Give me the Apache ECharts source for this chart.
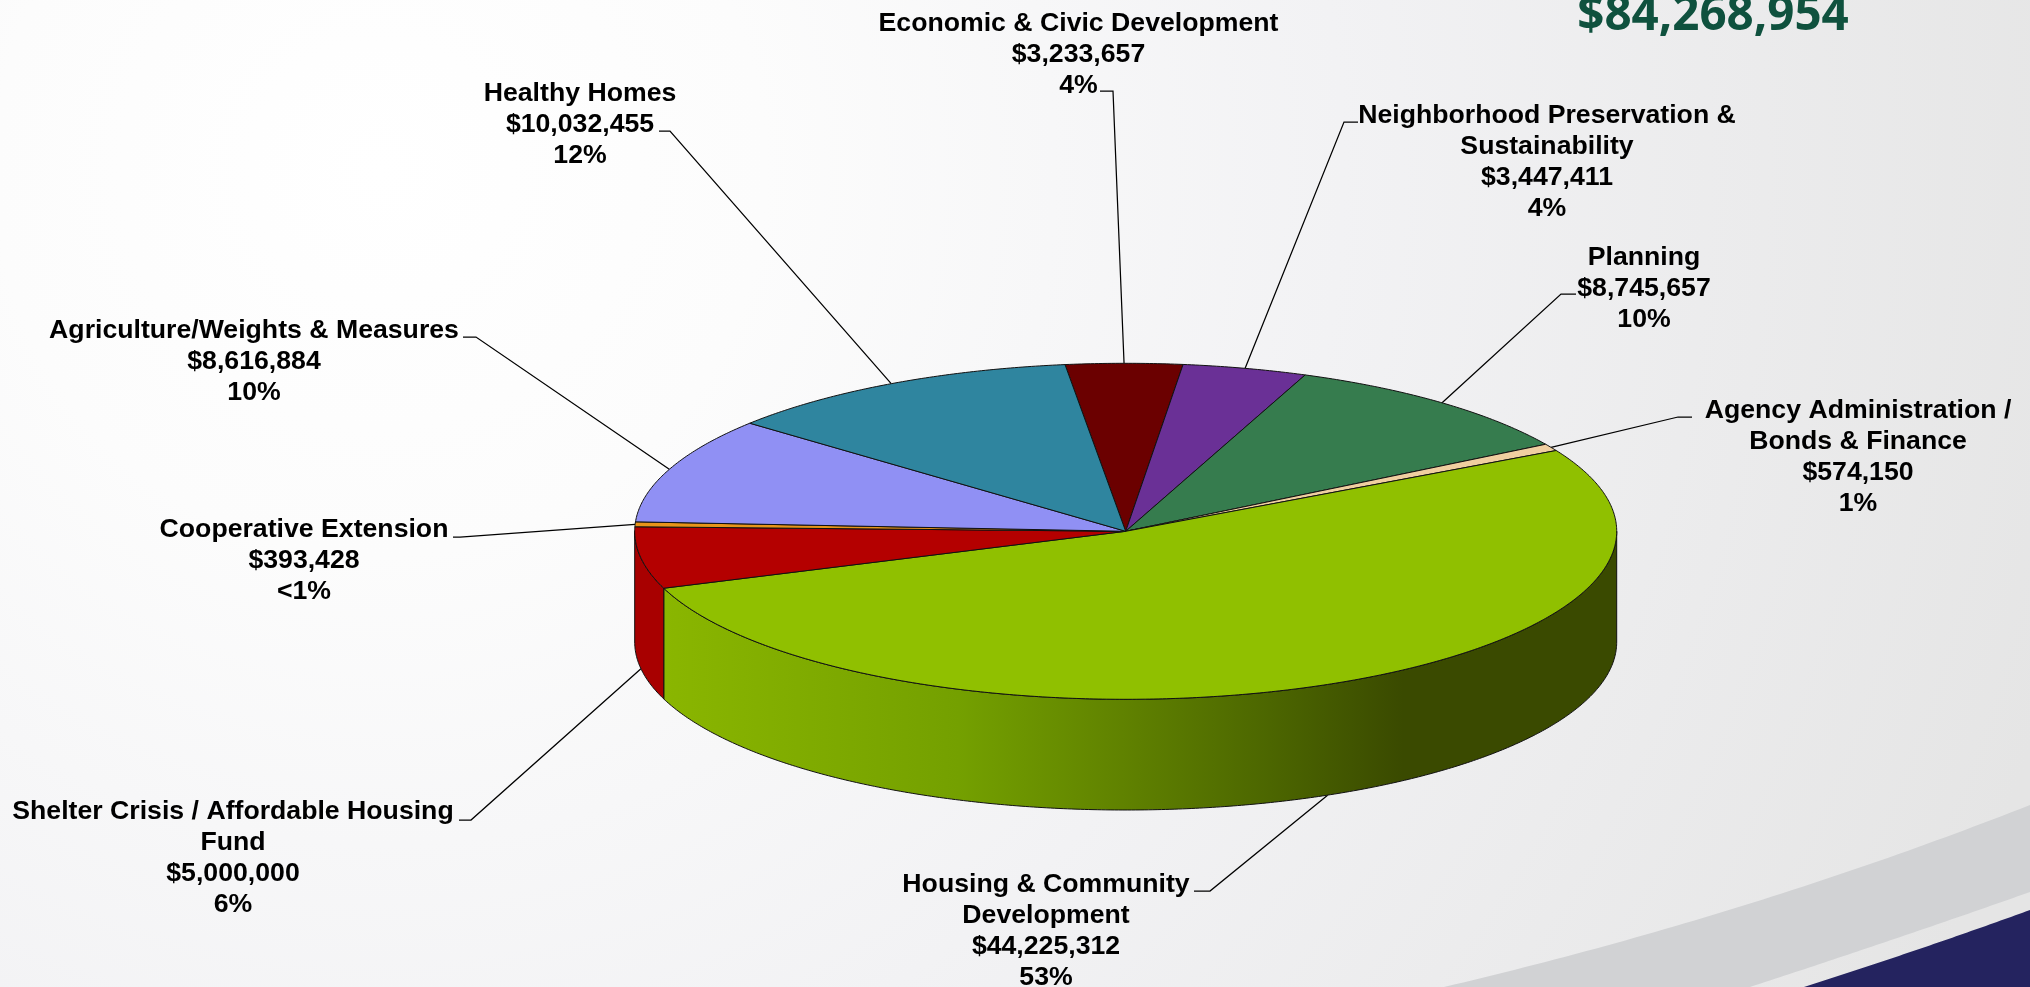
<!DOCTYPE html>
<html>
<head>
<meta charset="utf-8">
<style>html,body{margin:0;padding:0;background:#fff}#c{width:2030px;height:987px}</style>
<script src="https://cdn.jsdelivr.net/npm/echarts@6/dist/echarts.min.js"></script>
</head>
<body>
<div id="c"></div>
<script>
// ---- data (clockwise from the start angle) ----
const categories = [
  'Economic & Civic Development',
  'Neighborhood Preservation &\nSustainability',
  'Planning',
  'Agency Administration /\nBonds & Finance',
  'Housing & Community\nDevelopment',
  'Shelter Crisis / Affordable Housing\nFund',
  'Cooperative Extension',
  'Agriculture/Weights & Measures',
  'Healthy Homes'
];
const amounts = [3233657, 3447411, 8745657, 574150, 44225312, 5000000, 393428, 8616884, 10032455];
const percentLabels = ['4%', '4%', '10%', '1%', '53%', '6%', '<1%', '10%', '12%'];
const totalLabel = '$84,268,954';

// ---- styles and layout ----
const topColors = ['#6b0000', '#6a3096', '#367c4e', '#f0cfa0', '#90c000', '#b40000', '#e8951a', '#9090f4', '#2f859f'];
const wallColors = ['#5a0000', '#5a2880', '#2c6640', '#c8aa80', '#8ab600', '#a80000', '#c07a10', '#7878d0', '#276f85'];
const labelAnchors = [[1078.5, 23.5], [1547, 116], [1644, 258], [1858, 411], [1046, 885], [233, 812], [304, 530], [254, 331], [580, 94]];
const leaderElbows = [
  [[1113, 91], [1100, 91]],
  [[1344, 122], [1358, 122]],
  [[1561, 294], [1576, 294]],
  [[1678, 417], [1692, 417]],
  [[1210, 891], [1194, 891]],
  [[471, 820], [459, 820]],
  [[460, 537], [453, 537]],
  [[476, 337], [463, 337]],
  [[670, 131], [659, 131]]
];
const CX = 1125.7, CY = 531.3, RX = 491, RY = 168, DEPTH = 110.7, START_DEG = -7.1;
const LABEL_FONT = 'bold 26.67px "Liberation Sans", Arial, sans-serif';
const LINE_H = 31;

const total = amounts.reduce((a, b) => a + b, 0);
const pt = (deg, dy) => {
  const r = deg * Math.PI / 180;
  return [CX + RX * Math.sin(r), CY - RY * Math.cos(r) + (dy || 0)];
};
const arc = (a, b, dy) => {
  const out = [], n = Math.max(2, Math.ceil(Math.abs(b - a) / 0.5));
  for (let i = 0; i <= n; i++) out.push(pt(a + (b - a) * i / n, dy));
  return out;
};
const quad = (p0, c, p1) => {
  const out = [];
  for (let i = 0; i <= 60; i++) {
    const t = i / 60, u = 1 - t;
    out.push([u * u * p0[0] + 2 * u * t * c[0] + t * t * p1[0], u * u * p0[1] + 2 * u * t * c[1] + t * t * p1[1]]);
  }
  return out;
};
const stroke = { stroke: '#111', lineWidth: 1, lineJoin: 'round' };

function renderSlice(params, api) {
  const i = params.dataIndex;
  const before = amounts.slice(0, i).reduce((a, b) => a + b, 0);
  const a0 = START_DEG + before / total * 360;
  const a1 = a0 + api.value(0) / total * 360;
  const mid = (a0 + a1) / 2;
  const children = [];

  // leader line: from the rim at the slice's mid angle out to the label
  const norm = ((mid % 360) + 360) % 360;
  const front = norm > 90 && norm < 270;
  children.push({
    type: 'polyline', z2: 1,
    shape: { points: [pt(mid, front ? DEPTH : 0)].concat(leaderElbows[i]) },
    style: { fill: 'none', stroke: '#000', lineWidth: 1.25 }
  });

  // wall: the part of the slice's outer edge facing the viewer (90..270 deg)
  const w0 = Math.max(a0, 90), w1 = Math.min(a1, 270);
  if (w1 > w0) {
    const fill = i === 4 ? {
      type: 'linear', global: true, x: 663, y: 0, x2: 1403, y2: 0,
      colorStops: [
        { offset: 0, color: '#8ab600' }, { offset: 0.4, color: '#74a000' },
        { offset: 0.62, color: '#608200' }, { offset: 0.82, color: '#4c6600' },
        { offset: 1, color: '#3a4a00' }
      ]
    } : wallColors[i];
    children.push({
      type: 'polygon', z2: 2,
      shape: { points: arc(w0, w1, 0).concat(arc(w1, w0, DEPTH)) },
      style: Object.assign({ fill }, stroke)
    });
  }

  // top face
  children.push({
    type: 'polygon', z2: 3,
    shape: { points: [[CX, CY]].concat(arc(a0, a1, 0)) },
    style: Object.assign({ fill: topColors[i] }, stroke)
  });

  // label
  const amount = '$' + api.value(0).toLocaleString('en-US');
  children.push({
    type: 'text', z2: 4,
    style: {
      text: [categories[i], amount, percentLabels[i]].join('\n'),
      x: labelAnchors[i][0], y: labelAnchors[i][1] - LINE_H / 2,
      align: 'center', verticalAlign: 'top',
      font: LABEL_FONT, lineHeight: LINE_H, fill: '#000'
    }
  });
  return { type: 'group', children };
}

const chart = echarts.init(document.getElementById('c'), null, { renderer: 'canvas', width: 2030, height: 987 });
chart.setOption({
  animation: false,
  tooltip: { show: false },
  graphic: [
    { type: 'rect', z: -10, shape: { x: 0, y: 0, width: 2030, height: 987 }, silent: true,
      style: { fill: { type: 'radial', global: true, x: 380, y: 170, r: 1750, colorStops: [
        { offset: 0, color: '#ffffff' }, { offset: 0.22, color: '#fcfcfc' }, { offset: 0.55, color: '#f2f2f4' }, { offset: 1, color: '#e5e5e5' }
      ] } } },
    { type: 'polygon', z: -9, silent: true,
      shape: { points: quad([1444, 987], [1750, 915], [2030, 805]).concat(quad([2030, 892], [1900, 938], [1750, 987])) },
      style: { fill: '#d1d2d4' } },
    { type: 'polygon', z: -8, silent: true,
      shape: { points: quad([1804, 987], [1920, 950], [2030, 910]).concat([[2030, 987]]) },
      style: { fill: '#24235f' } },
    { type: 'text', z: 5, silent: true,
      style: { text: totalLabel, x: 1713, y: -8, align: 'center', verticalAlign: 'top',
        font: 'bold 47.5px "Open Sans", sans-serif', fill: '#0f513e' } }
  ],
  series: [{
    type: 'custom',
    coordinateSystem: 'none',
    silent: true,
    data: amounts.map((v, i) => ({ name: categories[i], value: v })),
    renderItem: renderSlice
  }]
});
</script>
</body>
</html>
